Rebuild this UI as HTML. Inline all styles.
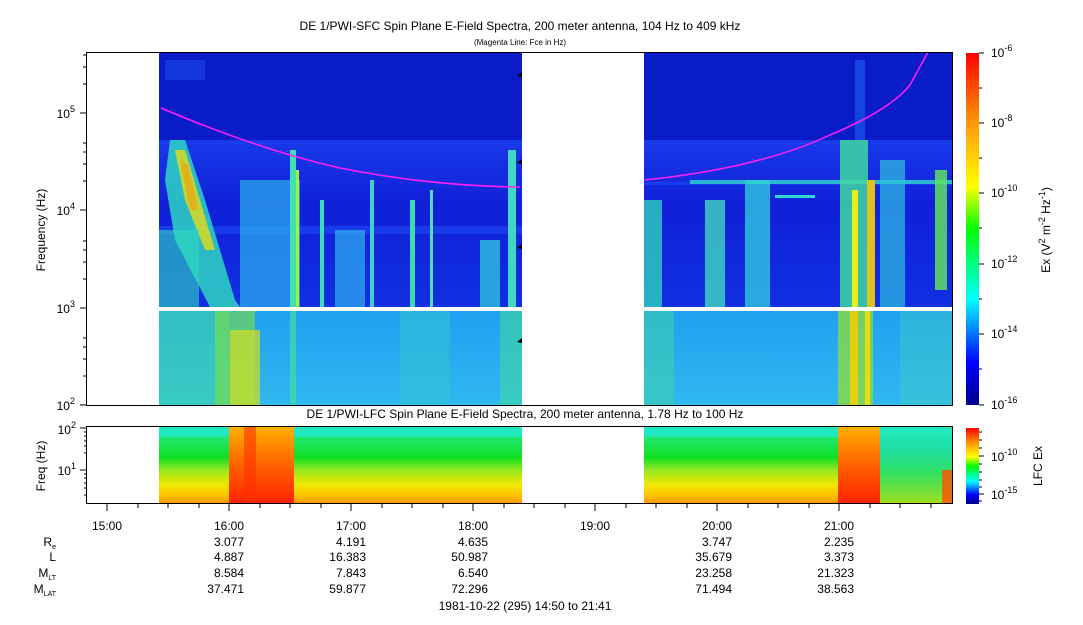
<!DOCTYPE html>
<html><head><meta charset="utf-8"><style>
body{margin:0;background:#fff;}
svg text{font-family:"Liberation Sans",sans-serif;fill:#000;}
</style></head><body>
<svg width="1083" height="620" viewBox="0 0 1083 620" xmlns="http://www.w3.org/2000/svg">
<defs>
<linearGradient id="cb" x1="0" y1="1" x2="0" y2="0">
<stop offset="0" stop-color="#00008c"/><stop offset="0.12" stop-color="#0000ff"/><stop offset="0.3" stop-color="#00ffff"/><stop offset="0.5" stop-color="#00ff00"/><stop offset="0.62" stop-color="#ffff00"/><stop offset="0.8" stop-color="#ff9900"/><stop offset="1" stop-color="#ff0000"/>
</linearGradient>
<linearGradient id="topbg" x1="0" y1="0" x2="0" y2="1">
<stop offset="0" stop-color="#0a1cc8"/><stop offset="0.35" stop-color="#0a1cc8"/><stop offset="0.36" stop-color="#1838e8"/><stop offset="0.6" stop-color="#1020d8"/><stop offset="1" stop-color="#1030e0"/>
</linearGradient>
<linearGradient id="lowbg" x1="0" y1="0" x2="0" y2="1">
<stop offset="0" stop-color="#20a0f0"/><stop offset="1" stop-color="#30b8f0"/>
</linearGradient>
<linearGradient id="lfc" x1="0" y1="0" x2="0" y2="1">
<stop offset="0" stop-color="#20e8c0"/><stop offset="0.12" stop-color="#20e8c0"/><stop offset="0.13" stop-color="#20e870"/><stop offset="0.4" stop-color="#10e020"/><stop offset="0.55" stop-color="#90e820"/><stop offset="0.75" stop-color="#f0e800"/><stop offset="0.9" stop-color="#ffc000"/><stop offset="1" stop-color="#ff9000"/>
</linearGradient>
<linearGradient id="lfcred" x1="0" y1="0" x2="0" y2="1">
<stop offset="0" stop-color="#ffb000"/><stop offset="0.4" stop-color="#ff7000"/><stop offset="1" stop-color="#ff2000"/>
</linearGradient>
<linearGradient id="lfcr2" x1="0" y1="0" x2="0" y2="1">
<stop offset="0" stop-color="#20e8c0"/><stop offset="0.3" stop-color="#20e0a0"/><stop offset="0.6" stop-color="#30e060"/><stop offset="1" stop-color="#a0e020"/>
</linearGradient>
</defs>

<text x="520" y="30" font-size="12" text-anchor="middle">DE 1/PWI-SFC  Spin Plane E-Field Spectra, 200 meter antenna, 104 Hz to 409 kHz</text>
<text x="520" y="45" font-size="8" text-anchor="middle">(Magenta Line: Fce in Hz)</text>
<text x="525" y="418" font-size="12" text-anchor="middle">DE 1/PWI-LFC  Spin Plane E-Field Spectra, 200 meter antenna, 1.78 Hz to 100 Hz</text>

<rect x="159" y="52" width="363" height="255" fill="url(#topbg)"/>
<rect x="159" y="311" width="363" height="94" fill="url(#lowbg)"/>
<rect x="644" y="52" width="309" height="255" fill="url(#topbg)"/>
<rect x="644" y="311" width="309" height="94" fill="url(#lowbg)"/>
<g fill="#1a40f0" opacity="0.8">
<rect x="159" y="140" width="363" height="4"/><rect x="159" y="226" width="363" height="8"/>
<rect x="644" y="140" width="309" height="4"/><rect x="644" y="182" width="309" height="3"/>
</g>
<g>
<path d="M170 140 L185 140 L205 200 L235 300 L240 307 L210 307 L175 240 L165 180 Z" fill="#30e0c0" opacity="0.8"/>
<path d="M175 150 L185 150 L200 200 L215 250 L205 250 L185 200 Z" fill="#ffe000" opacity="0.7"/>
<path d="M180 160 L188 165 L198 210 L190 210 Z" fill="#ff9000" opacity="0.5"/>
<rect x="159" y="230" width="40" height="77" fill="#30d8c0" opacity="0.6"/>
<rect x="240" y="180" width="60" height="127" fill="#30c8f0" opacity="0.6"/>
<rect x="290" y="150" width="6" height="157" fill="#40e0b0"/>
<rect x="296" y="170" width="3" height="137" fill="#a0f040"/>
<rect x="320" y="200" width="4" height="107" fill="#40d8c0"/>
<rect x="335" y="230" width="30" height="77" fill="#30b0f0" opacity="0.7"/>
<rect x="370" y="180" width="4" height="127" fill="#40d0d0"/>
<rect x="410" y="200" width="5" height="107" fill="#40d8b0"/>
<rect x="430" y="190" width="3" height="117" fill="#50e0a0"/>
<rect x="480" y="240" width="20" height="67" fill="#30c0e0" opacity="0.8"/>
<rect x="508" y="150" width="8" height="157" fill="#40d8c0"/>
<rect x="165" y="60" width="40" height="20" fill="#1a50f0" opacity="0.5"/>
</g>
<rect x="159" y="311" width="70" height="94" fill="#40d8a0" opacity="0.55"/>
<rect x="215" y="311" width="40" height="94" fill="#80e040" opacity="0.6"/>
<rect x="230" y="330" width="30" height="75" fill="#d0e020" opacity="0.7"/>
<rect x="290" y="311" width="6" height="94" fill="#40e0a0" opacity="0.7"/>
<rect x="400" y="311" width="50" height="94" fill="#30c8d0" opacity="0.5"/>
<rect x="500" y="311" width="22" height="94" fill="#40d8a0" opacity="0.6"/>
<g>
<rect x="644" y="200" width="18" height="107" fill="#30d0c0" opacity="0.8"/>
<rect x="705" y="200" width="20" height="107" fill="#40d8c0" opacity="0.8"/>
<rect x="745" y="180" width="25" height="127" fill="#30c8e0" opacity="0.8"/>
<rect x="690" y="180" width="263" height="4" fill="#30d8d0" opacity="0.8"/>
<rect x="775" y="195" width="40" height="3" fill="#30d8d0"/>
<rect x="840" y="140" width="28" height="167" fill="#40d8a0" opacity="0.85"/>
<rect x="852" y="190" width="6" height="117" fill="#e0f020"/>
<rect x="867" y="180" width="8" height="127" fill="#e0c020"/>
<rect x="880" y="160" width="25" height="147" fill="#30c0e0" opacity="0.7"/>
<rect x="935" y="170" width="12" height="120" fill="#60e060" opacity="0.85"/>
<rect x="855" y="60" width="10" height="80" fill="#1a60f0" opacity="0.6"/>
</g>
<rect x="644" y="311" width="30" height="94" fill="#40d8a0" opacity="0.5"/>
<rect x="838" y="311" width="35" height="94" fill="#90e030" opacity="0.75"/>
<rect x="850" y="311" width="8" height="94" fill="#ffd000" opacity="0.8"/>
<rect x="865" y="311" width="5" height="94" fill="#ffe000" opacity="0.8"/>
<rect x="900" y="311" width="53" height="94" fill="#40d0c0" opacity="0.4"/>

<path d="M161 108 Q 260 150 340 168 Q 430 186 520 187" fill="none" stroke="#ff20ff" stroke-width="1.5"/>
<path d="M645 180 Q 760 168 830 135 Q 890 110 910 85 L928 52" fill="none" stroke="#ff20ff" stroke-width="1.5"/>
<g fill="#000"><path d="M517 76 l5 -4 v5z"/><path d="M517 163 l5 -4 v5z"/><path d="M517 248 l5 -4 v5z"/><path d="M517 342 l5 -4 v5z"/></g>

<rect x="86.5" y="52.5" width="866" height="353" fill="none" stroke="#000"/>
<g stroke="#000">
<line x1="80" y1="113" x2="86" y2="113"/><line x1="80" y1="210" x2="86" y2="210"/><line x1="80" y1="308" x2="86" y2="308"/><line x1="80" y1="405" x2="86" y2="405"/>
<line x1="83" y1="84" x2="86" y2="84"/><line x1="83" y1="67" x2="86" y2="67"/><line x1="83" y1="55" x2="86" y2="55"/>
<line x1="83" y1="181" x2="86" y2="181"/><line x1="83" y1="164" x2="86" y2="164"/><line x1="83" y1="152" x2="86" y2="152"/><line x1="83" y1="143" x2="86" y2="143"/>
<line x1="83" y1="279" x2="86" y2="279"/><line x1="83" y1="262" x2="86" y2="262"/><line x1="83" y1="250" x2="86" y2="250"/><line x1="83" y1="241" x2="86" y2="241"/>
<line x1="83" y1="376" x2="86" y2="376"/><line x1="83" y1="359" x2="86" y2="359"/><line x1="83" y1="347" x2="86" y2="347"/><line x1="83" y1="338" x2="86" y2="338"/>
</g>
<g font-size="12" text-anchor="end">
<text x="75" y="118">10<tspan dy="-6" font-size="9">5</tspan></text>
<text x="75" y="215">10<tspan dy="-6" font-size="9">4</tspan></text>
<text x="75" y="313">10<tspan dy="-6" font-size="9">3</tspan></text>
<text x="75" y="410">10<tspan dy="-6" font-size="9">2</tspan></text>
</g>
<text transform="translate(45,230) rotate(-90)" font-size="12" text-anchor="middle">Frequency (Hz)</text>

<rect x="159" y="427" width="363" height="77" fill="url(#lfc)"/>
<rect x="229" y="427" width="65" height="77" fill="url(#lfcred)"/>
<rect x="244" y="427" width="12" height="77" fill="#ff3000" opacity="0.6"/>
<rect x="644" y="427" width="236" height="77" fill="url(#lfc)"/>
<rect x="838" y="427" width="42" height="77" fill="url(#lfcred)"/>
<rect x="880" y="427" width="73" height="77" fill="url(#lfcr2)"/>
<rect x="942" y="470" width="11" height="34" fill="#ff5000" opacity="0.8"/>
<rect x="86.5" y="426.5" width="866" height="77" fill="none" stroke="#000"/>
<g stroke="#000"><line x1="80" y1="428" x2="87" y2="428"/><line x1="80" y1="470" x2="87" y2="470"/>
<line x1="84" y1="432" x2="87" y2="432"/><line x1="84" y1="436" x2="87" y2="436"/><line x1="84" y1="441" x2="87" y2="441"/><line x1="84" y1="446" x2="87" y2="446"/><line x1="84" y1="453" x2="87" y2="453"/><line x1="84" y1="474" x2="87" y2="474"/><line x1="84" y1="478" x2="87" y2="478"/><line x1="84" y1="483" x2="87" y2="483"/><line x1="84" y1="488" x2="87" y2="488"/><line x1="84" y1="495" x2="87" y2="495"/>
</g>
<g font-size="12" text-anchor="end">
<text x="76" y="434">10<tspan dy="-6" font-size="9">2</tspan></text>
<text x="76" y="475">10<tspan dy="-6" font-size="9">1</tspan></text>
</g>
<text transform="translate(45,466) rotate(-90)" font-size="12" text-anchor="middle">Freq (Hz)</text>

<g stroke="#000">
<line x1="107" y1="504" x2="107" y2="511"/><line x1="229" y1="504" x2="229" y2="511"/><line x1="351" y1="504" x2="351" y2="511"/><line x1="473" y1="504" x2="473" y2="511"/><line x1="595" y1="504" x2="595" y2="511"/><line x1="717" y1="504" x2="717" y2="511"/><line x1="839" y1="504" x2="839" y2="511"/>
<line x1="138" y1="504" x2="138" y2="508"/><line x1="168" y1="504" x2="168" y2="508"/><line x1="199" y1="504" x2="199" y2="508"/>
<line x1="260" y1="504" x2="260" y2="508"/><line x1="290" y1="504" x2="290" y2="508"/><line x1="321" y1="504" x2="321" y2="508"/>
<line x1="382" y1="504" x2="382" y2="508"/><line x1="412" y1="504" x2="412" y2="508"/><line x1="443" y1="504" x2="443" y2="508"/>
<line x1="504" y1="504" x2="504" y2="508"/><line x1="534" y1="504" x2="534" y2="508"/><line x1="565" y1="504" x2="565" y2="508"/>
<line x1="626" y1="504" x2="626" y2="508"/><line x1="656" y1="504" x2="656" y2="508"/><line x1="687" y1="504" x2="687" y2="508"/>
<line x1="748" y1="504" x2="748" y2="508"/><line x1="778" y1="504" x2="778" y2="508"/><line x1="809" y1="504" x2="809" y2="508"/>
<line x1="870" y1="504" x2="870" y2="508"/><line x1="900" y1="504" x2="900" y2="508"/><line x1="931" y1="504" x2="931" y2="508"/>
</g>
<g font-size="12" text-anchor="middle">
<text x="107" y="530">15:00</text><text x="229" y="530">16:00</text><text x="351" y="530">17:00</text><text x="473" y="530">18:00</text><text x="595" y="530">19:00</text><text x="717" y="530">20:00</text><text x="839" y="530">21:00</text>
</g>
<g font-size="12" text-anchor="end">
<text x="56" y="546">R<tspan font-size="7" dy="3">e</tspan></text>
<text x="56" y="561">L</text>
<text x="56" y="577">M<tspan font-size="7" dy="3">LT</tspan></text>
<text x="56" y="593">M<tspan font-size="7" dy="3">LAT</tspan></text>
<text x="244" y="546">3.077</text><text x="366" y="546">4.191</text><text x="488" y="546">4.635</text><text x="732" y="546">3.747</text><text x="854" y="546">2.235</text>
<text x="244" y="561">4.887</text><text x="366" y="561">16.383</text><text x="488" y="561">50.987</text><text x="732" y="561">35.679</text><text x="854" y="561">3.373</text>
<text x="244" y="577">8.584</text><text x="366" y="577">7.843</text><text x="488" y="577">6.540</text><text x="732" y="577">23.258</text><text x="854" y="577">21.323</text>
<text x="244" y="593">37.471</text><text x="366" y="593">59.877</text><text x="488" y="593">72.296</text><text x="732" y="593">71.494</text><text x="854" y="593">38.563</text>
</g>
<text x="525" y="610" font-size="12" text-anchor="middle">1981-10-22 (295) 14:50 to 21:41</text>

<rect x="966" y="53" width="13" height="352" fill="url(#cb)"/>
<g stroke="#000">
<line x1="979" y1="53" x2="984" y2="53"/><line x1="979" y1="123" x2="984" y2="123"/><line x1="979" y1="193" x2="984" y2="193"/><line x1="979" y1="264" x2="984" y2="264"/><line x1="979" y1="334" x2="984" y2="334"/><line x1="979" y1="405" x2="984" y2="405"/>
<line x1="979" y1="88" x2="982" y2="88"/><line x1="979" y1="158" x2="982" y2="158"/><line x1="979" y1="228" x2="982" y2="228"/><line x1="979" y1="299" x2="982" y2="299"/><line x1="979" y1="369" x2="982" y2="369"/>
</g>
<g font-size="12">
<text x="991" y="57">10<tspan dy="-6" font-size="9">-6</tspan></text>
<text x="991" y="127">10<tspan dy="-6" font-size="9">-8</tspan></text>
<text x="991" y="197">10<tspan dy="-6" font-size="9">-10</tspan></text>
<text x="991" y="268">10<tspan dy="-6" font-size="9">-12</tspan></text>
<text x="991" y="338">10<tspan dy="-6" font-size="9">-14</tspan></text>
<text x="991" y="409">10<tspan dy="-6" font-size="9">-16</tspan></text>
</g>
<text transform="translate(1050,230) rotate(-90)" font-size="12" text-anchor="middle">Ex (V<tspan dy="-5" font-size="9">2</tspan><tspan dy="5"> m</tspan><tspan dy="-5" font-size="9">-2</tspan><tspan dy="5"> Hz</tspan><tspan dy="-5" font-size="9">-1</tspan><tspan dy="5">)</tspan></text>
<rect x="966" y="428" width="13" height="76" fill="url(#cb)"/>
<g stroke="#000"><line x1="979" y1="456" x2="984" y2="456"/><line x1="979" y1="494" x2="984" y2="494"/>
<line x1="979" y1="432" x2="982" y2="432"/><line x1="979" y1="440" x2="982" y2="440"/><line x1="979" y1="448" x2="982" y2="448"/><line x1="979" y1="464" x2="982" y2="464"/><line x1="979" y1="472" x2="982" y2="472"/><line x1="979" y1="480" x2="982" y2="480"/><line x1="979" y1="487" x2="982" y2="487"/><line x1="979" y1="501" x2="982" y2="501"/></g>
<g font-size="12">
<text x="991" y="461">10<tspan dy="-6" font-size="9">-10</tspan></text>
<text x="991" y="499">10<tspan dy="-6" font-size="9">-15</tspan></text>
</g>
<text transform="translate(1042,466) rotate(-90)" font-size="12" text-anchor="middle">LFC Ex</text>
</svg>
</body></html>
